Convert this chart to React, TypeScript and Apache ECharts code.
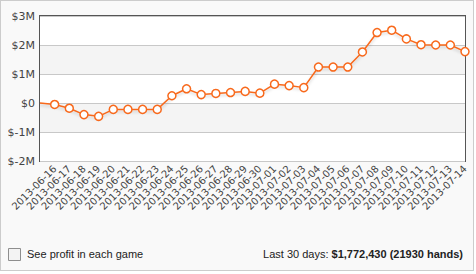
import React, { useEffect, useRef } from "react";
import * as echarts from "echarts";

const dates: string[] = [
  "",
  "2013-06-16", "2013-06-17", "2013-06-18", "2013-06-19", "2013-06-20",
  "2013-06-21", "2013-06-22", "2013-06-23", "2013-06-24", "2013-06-25",
  "2013-06-26", "2013-06-27", "2013-06-28", "2013-06-29", "2013-06-30",
  "2013-07-01", "2013-07-02", "2013-07-03", "2013-07-04", "2013-07-05",
  "2013-07-06", "2013-07-07", "2013-07-08", "2013-07-09", "2013-07-10",
  "2013-07-11", "2013-07-12", "2013-07-13", "2013-07-14",
];

const profit: number[] = [
  0, -50000, -180000, -400000, -460000, -220000, -220000, -220000, -220000,
  250000, 490000, 290000, 330000, 360000, 400000, 340000, 650000, 600000,
  530000, 1240000, 1240000, 1240000, 1760000, 2430000, 2510000, 2210000,
  2010000, 2000000, 2000000, 1772430,
];

const yMin = -2000000;
const yMax = 3000000;
const yStep = 1000000;

const checkboxLabel = "See profit in each game";
const summaryLabel = "Last 30 days: ";
const summaryValue = "$1,772,430 (21930 hands)";

const ORANGE = "#f8691c";

export default function App() {
  const ref = useRef<HTMLDivElement>(null);

  useEffect(() => {
    document.body.style.margin = "0";
    if (!ref.current) return;
    const chart = echarts.init(ref.current, undefined, { renderer: "svg" });
    chart.setOption({
      animation: false,
      grid: {
        left: 40,
        right: 11,
        top: 16,
        bottom: 113,
        show: true,
        backgroundColor: "#fff",
        borderColor: "#555",
        borderWidth: 2,
      },
      xAxis: {
        type: "category",
        data: dates,
        boundaryGap: false,
        axisLine: { show: false },
        axisTick: { show: false },
        splitLine: { show: false },
        axisLabel: {
          interval: 0,
          rotate: 45,
          margin: 6,
          fontSize: 10,
          fontFamily: "DejaVu Sans",
          color: "#444",
        },
      },
      yAxis: {
        type: "value",
        min: yMin,
        max: yMax,
        interval: yStep,
        axisLine: { show: false },
        axisTick: { show: false },
        splitLine: { lineStyle: { color: "#c8c8c8", width: 1 } },
        splitArea: { show: true, areaStyle: { color: ["#ffffff", "#f4f4f4"] } },
        axisLabel: {
          margin: 5,
          fontSize: 11,
          fontFamily: "DejaVu Sans",
          color: "#444",
          formatter: (v: number) => (v === 0 ? "$0" : "$" + v / 1000000 + "M"),
        },
      },
      series: [
        {
          type: "line",
          data: profit.map((v, i) => (i === 0 ? { value: v, symbol: "none" } : v)),
          symbol: "circle",
          symbolSize: 8,
          showSymbol: true,
          lineStyle: {
            color: ORANGE,
            width: 1.5,
            shadowColor: "rgba(0,0,0,0.18)",
            shadowBlur: 3,
            shadowOffsetY: 2,
          },
          itemStyle: { color: "#fff", borderColor: ORANGE, borderWidth: 1.5 },
        },
      ],
      graphic: [
        {
          type: "rect",
          shape: { x: 8.5, y: 248.5, width: 12, height: 12 },
          style: { fill: "#f3f3f3", stroke: "#8e8e8e", lineWidth: 1 },
        },
        {
          type: "text",
          x: 27,
          y: 254,
          style: {
            text: checkboxLabel,
            fontSize: 11,
            fontFamily: "Liberation Sans",
            fill: "#222",
            verticalAlign: "middle",
            align: "left",
          },
        },
        {
          type: "text",
          x: 463,
          y: 254,
          style: {
            text: "{a|" + summaryLabel + "}{b|" + summaryValue + "}",
            align: "right",
            verticalAlign: "middle",
            rich: {
              a: { fontSize: 11, fontFamily: "Liberation Sans", fill: "#222" },
              b: { fontSize: 11, fontFamily: "Liberation Sans", fontWeight: "bold", fill: "#222" },
            },
          },
        },
      ],
    });
    return () => chart.dispose();
  }, []);

  return (
    <div style={{ position: "relative", width: 476, height: 274, background: "#fff" }}>
      <div
        style={{
          position: "absolute",
          left: 0,
          top: 0,
          width: 474,
          height: 271,
          boxSizing: "border-box",
          border: "1px solid #cccccc",
          background: "#f9f9f9",
        }}
      />
      <div ref={ref} style={{ position: "absolute", left: 0, top: 0, width: 476, height: 274 }} />
    </div>
  );
}
